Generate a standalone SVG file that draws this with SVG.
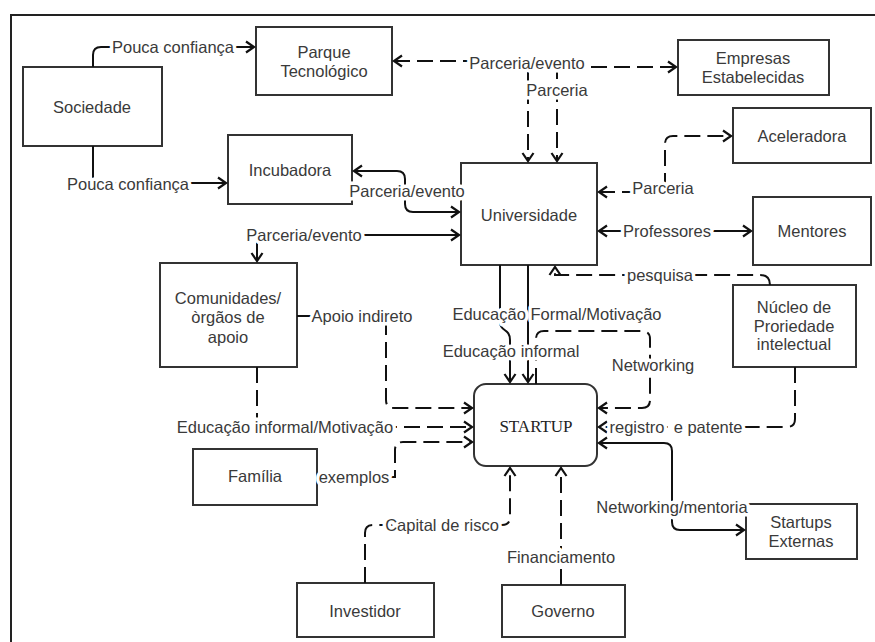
<svg xmlns="http://www.w3.org/2000/svg" width="875" height="642" viewBox="0 0 875 642">
<style>
.box{fill:#fff;stroke:#333;stroke-width:2}
.t{font-family:"Liberation Sans",Arial,sans-serif;font-size:16.5px;fill:#3a3a3a;text-anchor:middle;dominant-baseline:central}
.st{font-family:"Liberation Serif","Times New Roman",serif;font-size:17px;fill:#222;text-anchor:middle;dominant-baseline:central}
.c{fill:none;stroke:#111;stroke-width:2}
.d{stroke-dasharray:16 7}
.lb{font-family:"Liberation Sans",Arial,sans-serif;font-size:16.5px;fill:#3a3a3a;text-anchor:middle;dominant-baseline:central;stroke:#fff;stroke-width:7;stroke-linejoin:round;paint-order:stroke;white-space:pre}
</style>
<defs>
<marker id="a" markerUnits="userSpaceOnUse" markerWidth="14" markerHeight="14" refX="10" refY="7" orient="auto-start-reverse">
<path d="M2,1.5 L10,7 L2,12.5" fill="none" stroke="#111" stroke-width="2.2"/>
</marker>
</defs>
<rect width="875" height="642" fill="#fff"/>
<path d="M11,642 V15 H875" fill="none" stroke="#222" stroke-width="2"/>

<g id="sociedade"><rect class="box" x="23" y="67" width="139" height="79"/><text class="t" x="92" y="107">Sociedade</text></g>
<g id="parque"><rect class="box" x="256" y="27" width="136" height="68"/><text class="t" x="324" y="52">Parque</text><text class="t" x="324" y="71">Tecnológico</text></g>
<g id="empresas"><rect class="box" x="678" y="40" width="151" height="55"/><text class="t" x="753" y="58">Empresas</text><text class="t" x="753" y="77">Estabelecidas</text></g>
<g id="aceleradora"><rect class="box" x="733" y="108" width="138" height="55"/><text class="t" x="802" y="136">Aceleradora</text></g>
<g id="incubadora"><rect class="box" x="228" y="135" width="124" height="69"/><text class="t" x="290" y="170">Incubadora</text></g>
<g id="universidade"><rect class="box" x="461" y="163" width="136" height="102"/><text class="t" x="529" y="215">Universidade</text></g>
<g id="mentores"><rect class="box" x="753" y="197" width="118" height="68"/><text class="t" x="812" y="231">Mentores</text></g>
<g id="comunidades"><rect class="box" x="160" y="263" width="137" height="104"/><text class="t" x="228" y="298">Comunidades/</text><text class="t" x="228" y="317">òrgãos de</text><text class="t" x="228" y="337">apoio</text></g>
<g id="nucleo"><rect class="box" x="733" y="285" width="123" height="82"/><text class="t" x="794" y="307">Núcleo de</text><text class="t" x="794" y="326">Proriedade</text><text class="t" x="794" y="344">intelectual</text></g>
<g id="startup"><rect class="box" x="474" y="384" width="123" height="82" rx="12"/><text class="st" x="536" y="426">STARTUP</text></g>
<g id="familia"><rect class="box" x="193" y="449" width="124" height="56"/><text class="t" x="255" y="476">Família</text></g>
<g id="startups-externas"><rect class="box" x="746" y="504" width="111" height="55"/><text class="t" x="801" y="522">Startups</text><text class="t" x="801" y="541">Externas</text></g>
<g id="investidor"><rect class="box" x="297" y="583" width="137" height="54"/><text class="t" x="365" y="611">Investidor</text></g>
<g id="governo"><rect class="box" x="502" y="585" width="123" height="52"/><text class="t" x="563" y="611">Governo</text></g>

<g id="connectors">
<path class="c" d="M93,67 V55 Q93,47 101,47 H254" marker-end="url(#a)"/>
<text class="lb" x="173" y="47">Pouca confiança</text>
<path class="c" d="M93,146 V183 H226" marker-end="url(#a)"/>
<text class="lb" x="128" y="184">Pouca confiança</text>
<path class="c d" d="M394,61 H528 V161" marker-start="url(#a)" marker-end="url(#a)"/>
<path class="c d" d="M676,67 H557 V161" marker-start="url(#a)" marker-end="url(#a)"/>
<text class="lb" x="527" y="63">Parceria/evento</text>
<text class="lb" x="557" y="90">Parceria</text>
<path class="c" d="M354,171 H397 Q405,171 405,179 V204 Q405,212 413,212 H459" marker-start="url(#a)" marker-end="url(#a)"/>
<text class="lb" x="407" y="191">Parceria/evento</text>
<path class="c" d="M459,235 H257 V261" marker-start="url(#a)" marker-end="url(#a)"/>
<text class="lb" x="304" y="235">Parceria/evento</text>
<path class="c d" d="M599,192 H665 V144 Q665,136 673,136 H731" marker-start="url(#a)" marker-end="url(#a)"/>
<text class="lb" x="663" y="188">Parceria</text>
<path class="c" d="M599,231 H751" marker-start="url(#a)" marker-end="url(#a)"/>
<text class="lb" x="667" y="231">Professores</text>
<path class="c d" d="M770,285 Q770,275 760,275 H555 V267" marker-end="url(#a)"/>
<text class="lb" x="660" y="275">pesquisa</text>
<path class="c" d="M500,265 V322 C500,332 510,328 510,340 V382" marker-end="url(#a)"/>
<path class="c" d="M528,265 V382" marker-end="url(#a)"/>
<path class="c d" d="M536,384 V339 Q536,331 544,331 H642 Q650,331 650,339 V400 Q650,408 642,408 H599" marker-end="url(#a)"/>
<text class="lb" x="557" y="314">Educação Formal/Motivação</text>
<text class="lb" x="511" y="351">Educação informal</text>
<text class="lb" x="653" y="365">Networking</text>
<path class="c d" d="M297,316 H386 V400 Q386,408 394,408 H472" marker-end="url(#a)"/>
<text class="lb" x="362" y="316">Apoio indireto</text>
<path class="c d" d="M257,367 V427 H472" marker-end="url(#a)"/>
<text class="lb" x="285" y="427">Educação informal/Motivação</text>
<path class="c d" d="M317,477 H395 V450 Q395,442 403,442 H472" marker-end="url(#a)"/>
<text class="lb" x="354" y="477">exemplos</text>
<path class="c d" d="M795,367 V419 Q795,427 787,427 H599" marker-end="url(#a)"/>
<text class="lb" x="676" y="427">registro  e patente</text>
<path class="c d" d="M365,583 V533 Q365,525 373,525 H502 Q510,525 510,517 V468" marker-end="url(#a)"/>
<text class="lb" x="442" y="525">Capital de risco</text>
<path class="c d" d="M561,585 V468" marker-end="url(#a)"/>
<text class="lb" x="561" y="557">Financiamento</text>
<path class="c" d="M599,443 H664 Q672,443 672,451 V522 Q672,530 680,530 H744" marker-start="url(#a)" marker-end="url(#a)"/>
<text class="lb" x="672" y="507">Networking/mentoria</text>
</g>
</svg>
